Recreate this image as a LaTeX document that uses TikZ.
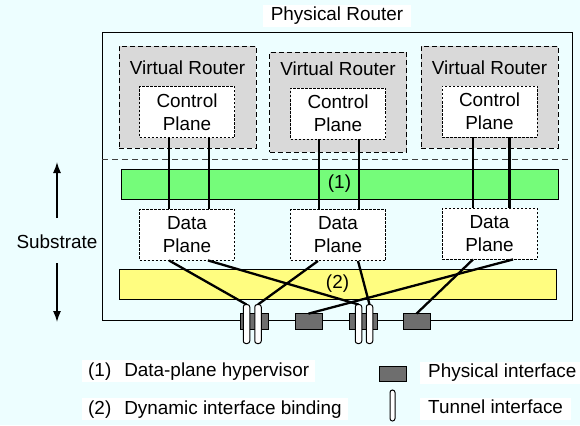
\documentclass[tikz,border=0pt]{standalone}
\usepackage{fontspec}
\setmainfont{Liberation Sans}
\usetikzlibrary{arrows.meta,calc}
\definecolor{bgc}{RGB}{237,254,255}
\definecolor{vrgray}{RGB}{217,217,217}
\definecolor{hvgreen}{RGB}{117,252,122}
\definecolor{bindyel}{RGB}{255,253,128}
\definecolor{ifgray}{RGB}{110,110,110}
\begin{document}
\begin{tikzpicture}[x=1pt,y=-1pt,
  every node/.style={font=\fontsize{18.9}{23}\selectfont, inner sep=0pt},
  vrbox/.style={draw, fill=vrgray, dash pattern=on 5pt off 3pt, line width=0.9pt, minimum width=137pt, minimum height=102pt},
  planebox/.style={draw, fill=white, dash pattern=on 2.5pt off 1.5pt, line width=0.9pt, minimum width=95pt, minimum height=51pt, align=center},
  bar/.style={draw, line width=0.9pt, minimum width=437pt, minimum height=30pt},
  conn/.style={line width=2.3pt},
  physif/.style={draw, fill=ifgray, line width=0.7pt, minimum width=27pt, minimum height=16pt},
  tunnelif/.style={draw, fill=white, rounded corners=2.5pt, line width=1pt, minimum width=5.5pt, minimum height=38pt},
  wlabel/.style={fill=white, anchor=west, text height=14pt, text depth=4pt, inner ysep=2pt, inner xsep=6pt},
  subarrow/.style={-{Latex[length=11pt,width=8pt]}, line width=1.3pt},
]
\fill[bgc] (0,0) rectangle (580,425);
\useasboundingbox (0,0) rectangle (580,425);

% physical router
\node[draw, line width=1pt, minimum width=470pt, minimum height=287pt] (pr) at (337,176.5) {};
\coordinate (sepL) at (102,159);
\coordinate (sepR) at (572,159);
\draw[black!75, dash pattern=on 6pt off 4pt, line width=0.9pt] (sepL) -- (sepR);
\node[fill=white, inner xsep=8pt, text height=14pt, text depth=4pt, inner ysep=2pt] (prlabel) at (337,16) {Physical Router};

% virtual routers
\node[vrbox] (vr1) at (187.5,97) {};
\node[vrbox, minimum height=100pt] (vr2) at (338,102) {};
\node[vrbox] (vr3) at (489.5,97) {};
\node (vrl1) at ([yshift=-22pt]vr1.north) {Virtual Router};
\node (vrl2) at ([yshift=-17pt]vr2.north) {Virtual Router};
\node (vrl3) at ([yshift=-22pt]vr3.north) {Virtual Router};

% control planes
\node[planebox] (cp1) at (187,112) {Control\\Plane};
\node[planebox] (cp2) at (338,113.5) {Control\\Plane};
\node[planebox] (cp3) at (489.5,111.5) {Control\\Plane};

% bars
\node[bar, fill=hvgreen] (hv) at (339.5,184) {(1)};
\node[bar, fill=bindyel] (bind) at (337.5,284) {(2)};

% data planes
\node[planebox] (dp1) at (187,234.5) {Data\\Plane};
\node[planebox] (dp2) at (338,235) {Data\\Plane};
\node[planebox] (dp3) at (489.5,233.5) {Data\\Plane};

% control to data plane links
\draw[conn] ([xshift=-18pt]cp1.south) -- ([xshift=-18pt]dp1.north);
\draw[conn] ([xshift=22pt]cp1.south) -- ([xshift=22pt]dp1.north);
\draw[conn] ([xshift=-19pt]cp2.south) -- ([xshift=-19pt]dp2.north);
\draw[conn] ([xshift=21pt]cp2.south) -- ([xshift=21pt]dp2.north);
\draw[conn] ([xshift=-16.5pt]cp3.south) -- ([xshift=-16.5pt]dp3.north);
\draw[conn] ([xshift=20pt]cp3.south) -- ([xshift=20pt]dp3.north);

% physical interfaces
\node[physif, minimum width=28pt] (p1) at (254,321) {};
\node[physif] (p2) at (308.5,321) {};
\node[physif, minimum width=28pt] (p3) at (363,321) {};
\node[physif] (p4) at (416.5,321) {};

% tunnel interfaces (positions; drawn on top later)
\node[tunnelif, draw=none, fill=none] (t1a) at (246.5,324) {};
\node[tunnelif, draw=none, fill=none] (t1b) at (258,324) {};
\node[tunnelif, draw=none, fill=none] (t2a) at (358.5,324) {};
\node[tunnelif, draw=none, fill=none] (t2b) at (369.5,324) {};

% bindings
\draw[conn] ([xshift=-18pt]dp1.south) -- (t1a.north);
\draw[conn] ([xshift=21pt]dp1.south) -- (t2a.north);
\draw[conn] ([xshift=-20pt]dp2.south) -- (t1b.north);
\draw[conn] ([xshift=20pt]dp2.south) -- (t2b.north);
\draw[conn] ([xshift=-16.5pt]dp3.south) -- ([yshift=-1pt]p4.north);
\draw[conn] ([xshift=23.5pt]dp3.south) -- ([yshift=-1pt]p2.north);

% tunnels on top
\foreach \t in {t1a,t1b,t2a,t2b}{
  \draw[fill=white, rounded corners=2.5pt, line width=1pt] (\t.south west) rectangle (\t.north east);
}

% substrate
\node (sub) at (57,242) {Substrate};
\coordinate (subtop) at (57,162);
\coordinate (subbot) at (57,322);
\draw[subarrow] ([yshift=24pt]sub.center) -- (subtop);
\draw[subarrow] ([yshift=-21pt]sub.center) -- (subbot);

% legend
\node[wlabel] (l1) at (82,371) {(1)\hspace{13pt}Data-plane hypervisor};
\node[wlabel] (l2) at (82,409) {(2)\hspace{13pt}Dynamic interface binding};
\node[physif, minimum height=15pt] (lp) at (392.5,373.5) {};
\node[tunnelif, minimum height=31pt, minimum width=5pt] (lt) at (392.5,405.5) {};
\node[wlabel, inner xsep=8pt] (l3) at (420,372.5) {Physical interface};
\node[wlabel, inner xsep=8pt] (l4) at (420,408.5) {Tunnel interface};
\end{tikzpicture}
\end{document}
